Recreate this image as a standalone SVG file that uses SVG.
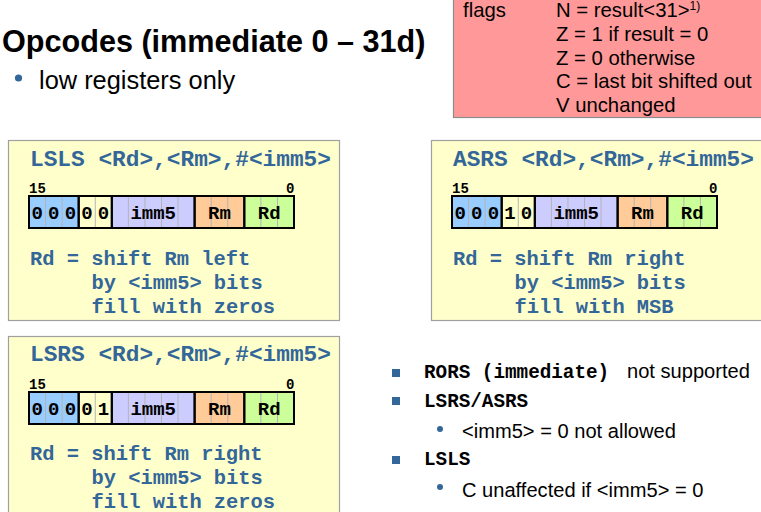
<svg xmlns="http://www.w3.org/2000/svg" xmlns:xlink="http://www.w3.org/1999/xlink" width="761" height="512" viewBox="0 0 761 512">
<style>
.box{fill:#ffffcc;stroke:#a0a0a0;stroke-width:1.2}
.title{font-family:"Liberation Mono",monospace;font-weight:bold;font-size:22.8px;fill:#336699}
.desc{font-family:"Liberation Mono",monospace;font-weight:bold;font-size:20.4px;fill:#336699}
.bit{font-family:"Liberation Mono",monospace;font-weight:bold;font-size:19px;fill:#000;text-anchor:middle}
.num{font-family:"Liberation Mono",monospace;font-weight:bold;font-size:14px;fill:#000}
.sep{stroke:#b4b4b4;stroke-width:1}
.grp{stroke:#000;stroke-width:2}
.sans{font-family:"Liberation Sans",Arial,sans-serif;fill:#000}
.mono{font-family:"Liberation Mono",monospace;font-weight:bold;font-size:19.3px;fill:#000}
.blue{fill:#336699}
</style>
<defs>
<g id="field">
<rect x="0" y="0" width="49.69" height="32" fill="#99ccff"/>
<rect x="49.69" y="0" width="33.12" height="32" fill="#ffffcc"/>
<rect x="82.81" y="0" width="82.81" height="32" fill="#ccccff"/>
<rect x="165.62" y="0" width="49.69" height="32" fill="#ffcc99"/>
<rect x="215.31" y="0" width="49.69" height="32" fill="#ccff99"/>
<g class="sep">
<line x1="16.56" y1="0" x2="16.56" y2="32"/><line x1="33.12" y1="0" x2="33.12" y2="32"/>
<line x1="66.25" y1="0" x2="66.25" y2="32"/>
<line x1="99.38" y1="0" x2="99.38" y2="32"/><line x1="115.94" y1="0" x2="115.94" y2="32"/><line x1="132.5" y1="0" x2="132.5" y2="32"/><line x1="149.06" y1="0" x2="149.06" y2="32"/>
<line x1="182.19" y1="0" x2="182.19" y2="32"/><line x1="198.75" y1="0" x2="198.75" y2="32"/>
<line x1="231.88" y1="0" x2="231.88" y2="32"/><line x1="248.44" y1="0" x2="248.44" y2="32"/>
</g>
<g class="grp" fill="none">
<rect x="0" y="0" width="49.69" height="32"/>
<rect x="49.69" y="0" width="33.12" height="32"/>
<rect x="82.81" y="0" width="82.81" height="32"/>
<rect x="165.62" y="0" width="49.69" height="32"/>
<rect x="215.31" y="0" width="49.69" height="32"/>
</g>
</g>
</defs>

<g id="heading">
<text x="2" y="52" class="sans" font-weight="bold" font-size="30.6">Opcodes (immediate 0 – 31d)</text>
<circle cx="18.5" cy="78" r="3.6" class="blue"/>
<text x="39" y="89" class="sans" font-size="25.4">low registers only</text>
</g>

<g id="flags">
<rect x="453.5" y="-2" width="320" height="119.5" fill="#ff9999" stroke="#8c8c8c" stroke-width="1.2"/>
<text x="463" y="17.3" class="sans" font-size="20.3">flags</text>
<text x="556" y="17.3" class="sans" font-size="20.3">N = result&lt;31&gt;<tspan font-size="12" dy="-7">1)</tspan></text>
<text x="556" y="41" class="sans" font-size="20.3">Z = 1 if result = 0</text>
<text x="556" y="64.5" class="sans" font-size="20.3">Z = 0 otherwise</text>
<text x="556" y="88" class="sans" font-size="20.3">C = last bit shifted out</text>
<text x="556" y="111.7" class="sans" font-size="20.3">V unchanged</text>
</g>

<g id="lsls">
<rect class="box" x="8.5" y="140.5" width="331" height="180"/>
<text class="title" x="30" y="166">LSLS &lt;Rd&gt;,&lt;Rm&gt;,#&lt;imm5&gt;</text>
<text class="num" x="29" y="193">15</text>
<text class="num" x="286" y="193">0</text>
<use xlink:href="#field" x="29" y="196"/>
<text class="bit" y="218.5"><tspan x="37.3">0</tspan><tspan x="53.8">0</tspan><tspan x="70.4">0</tspan><tspan x="87">0</tspan><tspan x="103.5">0</tspan><tspan x="153.2">imm5</tspan><tspan x="219.5">Rm</tspan><tspan x="269.2">Rd</tspan></text>
<text class="desc" x="30" y="265">Rd = shift Rm left</text>
<text class="desc" x="91.5" y="289">by &lt;imm5&gt; bits</text>
<text class="desc" x="91.5" y="313">fill with zeros</text>
</g>

<g id="asrs">
<rect class="box" x="431.5" y="140.5" width="340" height="180"/>
<text class="title" x="453" y="166">ASRS &lt;Rd&gt;,&lt;Rm&gt;,#&lt;imm5&gt;</text>
<text class="num" x="452" y="193">15</text>
<text class="num" x="709" y="193">0</text>
<use xlink:href="#field" x="452" y="196"/>
<text class="bit" y="218.5"><tspan x="460.3">0</tspan><tspan x="476.8">0</tspan><tspan x="493.4">0</tspan><tspan x="510">1</tspan><tspan x="526.5">0</tspan><tspan x="576.2">imm5</tspan><tspan x="642.5">Rm</tspan><tspan x="692.2">Rd</tspan></text>
<text class="desc" x="453" y="265">Rd = shift Rm right</text>
<text class="desc" x="514.5" y="289">by &lt;imm5&gt; bits</text>
<text class="desc" x="514.5" y="313">fill with MSB</text>
</g>

<g id="lsrs">
<rect class="box" x="8.5" y="336.5" width="331" height="190"/>
<text class="title" x="30" y="361">LSRS &lt;Rd&gt;,&lt;Rm&gt;,#&lt;imm5&gt;</text>
<text class="num" x="29" y="389">15</text>
<text class="num" x="286" y="389">0</text>
<use xlink:href="#field" x="29" y="392"/>
<text class="bit" y="414.5"><tspan x="37.3">0</tspan><tspan x="53.8">0</tspan><tspan x="70.4">0</tspan><tspan x="87">0</tspan><tspan x="103.5">1</tspan><tspan x="153.2">imm5</tspan><tspan x="219.5">Rm</tspan><tspan x="269.2">Rd</tspan></text>
<text class="desc" x="30" y="460">Rd = shift Rm right</text>
<text class="desc" x="91.5" y="484">by &lt;imm5&gt; bits</text>
<text class="desc" x="91.5" y="508">fill with zeros</text>
</g>

<g id="notes">
<rect x="392" y="369" width="8" height="8" class="blue"/>
<text class="mono" x="424" y="378">RORS (immediate)</text>
<text class="sans" x="627" y="378" font-size="20.1">not supported</text>
<rect x="392" y="397" width="8" height="8" class="blue"/>
<text class="mono" x="424" y="407">LSRS/ASRS</text>
<circle cx="440" cy="429" r="3" class="blue"/>
<text class="sans" x="462" y="437.5" font-size="20.1">&lt;imm5&gt; = 0 not allowed</text>
<rect x="392" y="456" width="8" height="8" class="blue"/>
<text class="mono" x="424" y="465">LSLS</text>
<circle cx="440" cy="487" r="3" class="blue"/>
<text class="sans" x="462" y="497" font-size="20.1">C unaffected if &lt;imm5&gt; = 0</text>
</g>
</svg>
